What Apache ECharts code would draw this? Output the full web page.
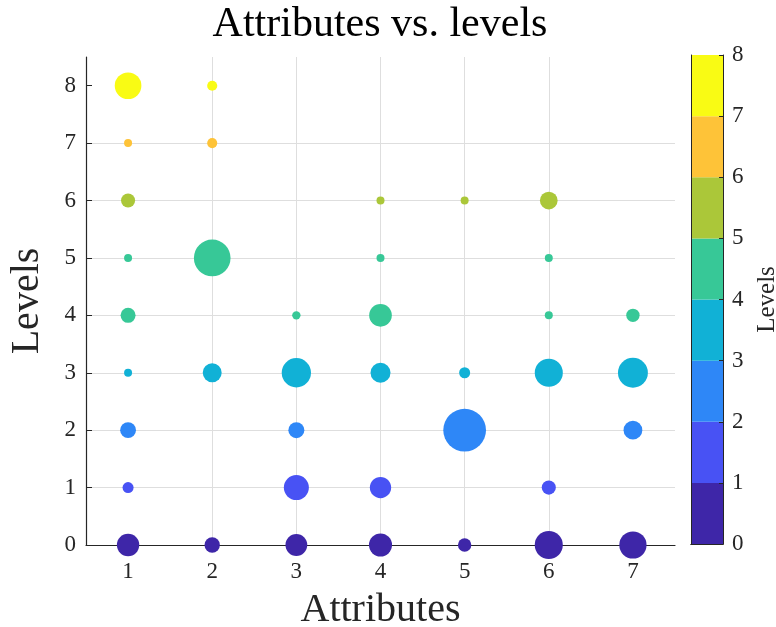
<!DOCTYPE html>
<html><head><meta charset="utf-8">
<script src="https://cdn.jsdelivr.net/npm/echarts@6/dist/echarts.min.js"></script>
<style>html,body{margin:0;padding:0;background:#fff}#c{width:776px;height:627px}</style>
</head><body><div id="c"></div>
<script>
const titleText = 'Attributes vs. levels';
const xName = 'Attributes';
const yName = 'Levels';
const colorbarName = 'Levels';
const attributes = [1, 2, 3, 4, 5, 6, 7];
const levels = [0, 1, 2, 3, 4, 5, 6, 7, 8];
// bubble size per level (index = level 0..8), 0 = no bubble
const sizesAttr1 = [7.8, 1.9, 3.9, 1, 3.5, 1, 3.1, 1, 11.1];
const sizesAttr2 = [3.7, 0, 0, 5.6, 0, 21, 0, 1.6, 1.6];
const sizesAttr3 = [7.4, 9.8, 4, 13.4, 1.1, 0, 0, 0, 0];
const sizesAttr4 = [8.3, 7.1, 0, 6.25, 8, 1, 1, 0, 0];
const sizesAttr5 = [2.8, 0, 28.5, 1.9, 0, 0, 1, 0, 0];
const sizesAttr6 = [12.3, 3.1, 0, 12.3, 1, 1, 4.9, 0, 0];
const sizesAttr7 = [11.6, 0, 5.5, 14, 2.8, 0, 0, 0, 0];
const sizesByAttribute = [sizesAttr1, sizesAttr2, sizesAttr3, sizesAttr4, sizesAttr5, sizesAttr6, sizesAttr7];
const colorbarTicks = [0, 1, 2, 3, 4, 5, 6, 7, 8];
const palette = ['#3E26A8', '#4852F4', '#2E87F7', '#11B1D6', '#37C897', '#ABC739', '#FEC338', '#F9FB14'];
const levelColorIndex = [0, 1, 2, 3, 4, 4, 5, 6, 7];

const FONT = 'Liberation Serif';
const INK = '#262626';

const points = [];
attributes.forEach((a, i) => {
  levels.forEach((lv, j) => {
    const s = sizesByAttribute[i][j];
    if (s > 0) points.push([a, lv, s]);
  });
});

const colorbarSeries = palette.map((c, i) => ({
  type: 'bar', xAxisIndex: 1, yAxisIndex: 1, stack: 'cb',
  data: [colorbarTicks[i + 1] - colorbarTicks[i]],
  barWidth: '100%', barCategoryGap: 0, itemStyle: { color: c }, z: 1, silent: true
}));

const chart = echarts.init(document.getElementById('c'), null, { renderer: 'canvas' });
chart.setOption({
  animation: false,
  backgroundColor: '#fff',
  title: {
    text: titleText, left: 380, top: 4, padding: 0, textAlign: 'center',
    textStyle: { fontFamily: FONT, fontSize: 42, fontWeight: 'normal', color: '#000' }
  },
  grid: [
    { left: 86, top: 57, width: 589, height: 488, outerBoundsMode: 'none', containLabel: false },
    { left: 691, top: 55, width: 32, height: 489, outerBoundsMode: 'none', containLabel: false }
  ],
  xAxis: [
    {
      gridIndex: 0, type: 'value', min: 0.5, max: 7.5, splitNumber: 7,
      axisLine: { lineStyle: { color: INK, width: 1.2 } },
      axisTick: { inside: true, length: 6, customValues: attributes, lineStyle: { color: INK } },
      axisLabel: { customValues: attributes, fontFamily: FONT, fontSize: 23, color: INK, margin: 15 },
      splitLine: { show: true, showMinLine: false, showMaxLine: false, lineStyle: { color: '#dedede', width: 1 } },
      name: xName, nameLocation: 'middle', nameGap: 45,
      nameTextStyle: { fontFamily: FONT, fontSize: 40, color: INK }
    },
    {
      gridIndex: 1, type: 'category', data: ['cb'], z: 5,
      axisLine: { lineStyle: { color: INK, width: 1 } }, axisTick: { show: false }, axisLabel: { show: false }
    },
    {
      gridIndex: 1, type: 'category', data: ['cb'], position: 'top', z: 5,
      axisLine: { lineStyle: { color: INK, width: 1 } }, axisTick: { show: false }, axisLabel: { show: false }
    }
  ],
  yAxis: [
    {
      gridIndex: 0, type: 'value', min: 0, max: 8.5, interval: 1,
      axisLine: { show: true, lineStyle: { color: INK, width: 1.2 } },
      axisTick: { show: true, inside: true, length: 6, customValues: levels, lineStyle: { color: INK } },
      axisLabel: { customValues: levels, fontFamily: FONT, fontSize: 23, color: INK, margin: 10 },
      splitLine: { show: true, showMinLine: false, showMaxLine: false, lineStyle: { color: '#dedede', width: 1 } },
      name: yName, nameLocation: 'middle', nameRotate: 90, nameGap: 39,
      nameTextStyle: { fontFamily: FONT, fontSize: 40, color: INK }
    },
    {
      gridIndex: 1, type: 'value', min: 0, max: 8, interval: 1, position: 'right', z: 5,
      axisLine: { show: true, lineStyle: { color: INK, width: 1 } },
      axisTick: { show: true, inside: true, length: 4, lineStyle: { color: INK } },
      axisLabel: { fontFamily: FONT, fontSize: 23, color: INK, margin: 9 },
      splitLine: { show: false },
      name: colorbarName, nameLocation: 'middle', nameRotate: 90, nameGap: 32,
      nameTextStyle: { fontFamily: FONT, fontSize: 25, color: INK }
    },
    {
      gridIndex: 1, type: 'value', min: 0, max: 8, position: 'left', z: 5,
      axisLine: { show: true, lineStyle: { color: INK, width: 1 } },
      axisTick: { show: false }, axisLabel: { show: false }, splitLine: { show: false }
    }
  ],
  series: [
    {
      type: 'scatter', xAxisIndex: 0, yAxisIndex: 0,
      data: points,
      symbolSize: d => 8 * Math.sqrt(d[2]),
      itemStyle: { color: p => palette[levelColorIndex[p.data[1]]], opacity: 1 },
      z: 3
    }
  ].concat(colorbarSeries)
});
</script></body></html>
